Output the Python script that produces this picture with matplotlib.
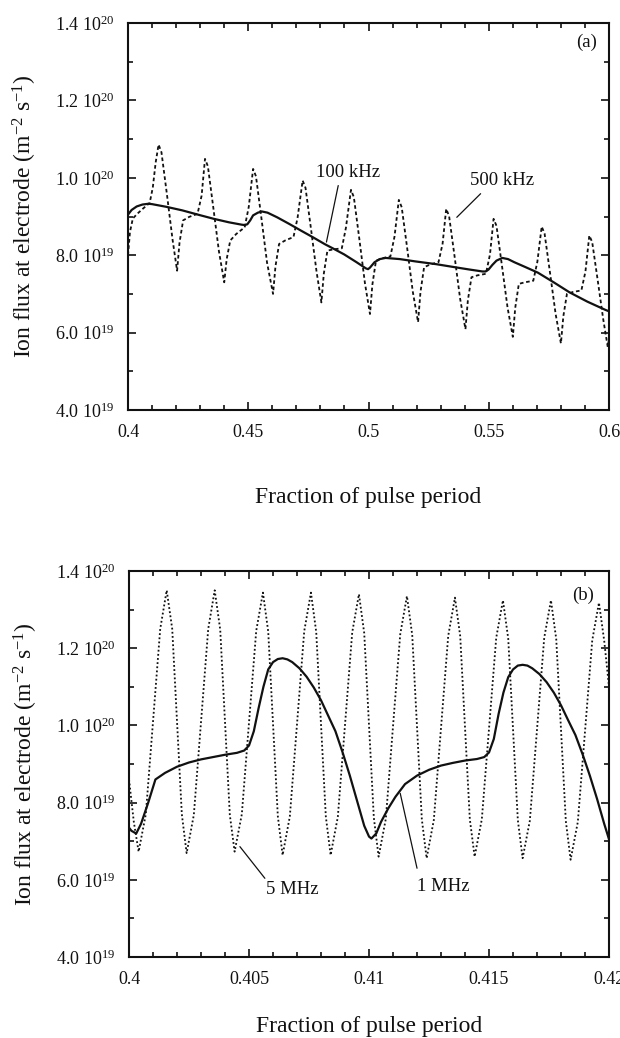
import matplotlib.pyplot as plt
from matplotlib.ticker import MultipleLocator

plt.rcParams['font.family'] = ['Liberation Serif', 'DejaVu Serif']
plt.rcParams['mathtext.fontset'] = 'custom'
plt.rcParams['mathtext.rm'] = 'Liberation Serif'
plt.rcParams['mathtext.it'] = 'Liberation Serif:italic'
plt.rcParams['mathtext.bf'] = 'Liberation Serif:bold'

# ion flux in units of 1e20 m^-2 s^-1
y_ticks = [0.4, 0.6, 0.8, 1.0, 1.2, 1.4]
y_ticklabels = ['4.0 10$^{19}$', '6.0 10$^{19}$', '8.0 10$^{19}$',
                '1.0 10$^{20}$', '1.2 10$^{20}$', '1.4 10$^{20}$']

# ---- panel (a): 100 kHz (solid) and 500 kHz (dotted)
xa_ticks = [0.4, 0.45, 0.5, 0.55, 0.6]
xa_ticklabels = ['0.4', '0.45', '0.5', '0.55', '0.6']

xa_100 = [0.4000, 0.4015, 0.4036, 0.4060, 0.4085, 0.4100, 0.4160, 0.4225, 0.4290, 0.4357,
          0.4420, 0.4472, 0.4485, 0.4496, 0.4508, 0.4520, 0.4540, 0.4557, 0.4580, 0.4620,
          0.4670, 0.4718, 0.4770, 0.4817, 0.4860, 0.4899, 0.4950, 0.4989, 0.4998, 0.5006,
          0.5025, 0.5047, 0.5071, 0.5130, 0.5195, 0.5280, 0.5359, 0.5420, 0.5474, 0.5487,
          0.5499, 0.5515, 0.5532, 0.5556, 0.5580, 0.5606, 0.5650, 0.5704, 0.5770, 0.5836,
          0.5910, 0.5984, 0.6000]
ya_100 = [0.905, 0.917, 0.926, 0.931, 0.933, 0.932, 0.925, 0.916, 0.905, 0.894,
          0.885, 0.879, 0.878, 0.880, 0.890, 0.903, 0.910, 0.913, 0.910, 0.898,
          0.881, 0.864, 0.846, 0.829, 0.815, 0.802, 0.782, 0.766, 0.764, 0.768,
          0.782, 0.790, 0.793, 0.790, 0.784, 0.777, 0.769, 0.763, 0.758, 0.758,
          0.763, 0.775, 0.786, 0.793, 0.790, 0.782, 0.770, 0.755, 0.730, 0.704,
          0.680, 0.659, 0.655]

xa_500 = [0.4000, 0.4008, 0.4020, 0.4040, 0.4065, 0.4090, 0.4103, 0.4115,
          0.4127, 0.4139, 0.4162, 0.4185, 0.4204, 0.4214, 0.4229, 0.4254, 0.4289, 0.4306,
          0.4320, 0.4332, 0.4355, 0.4378, 0.4400, 0.4410, 0.4425, 0.4450, 0.4485, 0.4502,
          0.4520, 0.4532, 0.4555, 0.4578, 0.4603, 0.4613, 0.4628, 0.4653, 0.4688, 0.4705,
          0.4726, 0.4738, 0.4761, 0.4784, 0.4804, 0.4814, 0.4829, 0.4854, 0.4889, 0.4906,
          0.4927, 0.4939, 0.4962, 0.4985, 0.5006, 0.5016, 0.5031, 0.5056, 0.5091, 0.5108,
          0.5126, 0.5138, 0.5161, 0.5184, 0.5206, 0.5216, 0.5231, 0.5256, 0.5291, 0.5308,
          0.5323, 0.5335, 0.5358, 0.5381, 0.5403, 0.5413, 0.5428, 0.5453, 0.5488, 0.5505,
          0.5520, 0.5532, 0.5555, 0.5578, 0.5600, 0.5610, 0.5625, 0.5650, 0.5685, 0.5702,
          0.5720, 0.5732, 0.5755, 0.5778, 0.5800, 0.5810, 0.5825, 0.5850, 0.5885, 0.5902,
          0.5918, 0.5930, 0.5953, 0.5976, 0.5995, 0.6000]
ya_500 = [0.800, 0.860, 0.895, 0.908, 0.922, 0.935, 0.975, 1.040,
          1.086, 1.066, 0.956, 0.841, 0.760, 0.832, 0.890, 0.899, 0.907, 0.954,
          1.049, 1.030, 0.921, 0.810, 0.730, 0.789, 0.838, 0.855, 0.872, 0.925,
          1.023, 1.004, 0.894, 0.781, 0.700, 0.771, 0.829, 0.838, 0.847, 0.897,
          0.993, 0.974, 0.867, 0.757, 0.678, 0.752, 0.812, 0.815, 0.818, 0.871,
          0.969, 0.950, 0.841, 0.728, 0.648, 0.724, 0.786, 0.792, 0.797, 0.848,
          0.943, 0.924, 0.817, 0.706, 0.627, 0.705, 0.769, 0.776, 0.782, 0.830,
          0.920, 0.901, 0.796, 0.687, 0.609, 0.683, 0.743, 0.748, 0.752, 0.802,
          0.894, 0.876, 0.772, 0.665, 0.589, 0.664, 0.726, 0.730, 0.734, 0.783,
          0.874, 0.856, 0.753, 0.648, 0.572, 0.642, 0.700, 0.705, 0.709, 0.758,
          0.851, 0.834, 0.735, 0.634, 0.562, 0.590]

# ---- panel (b): 1 MHz (solid) and 5 MHz (dotted)
xb_ticks = [0.4, 0.405, 0.41, 0.415, 0.42]
xb_ticklabels = ['0.4', '0.405', '0.41', '0.415', '0.42']

xb_1 = [0.4000, 0.4001, 0.4003, 0.4005, 0.4008, 0.4011, 0.4015, 0.4020, 0.4025, 0.4030,
        0.4035, 0.4040, 0.4045, 0.4048, 0.4050, 0.4052, 0.4054, 0.4056, 0.4058, 0.4060,
        0.4062, 0.4064, 0.4066, 0.4068, 0.4071, 0.4074, 0.4077, 0.4080, 0.4083, 0.4086,
        0.4089, 0.4092, 0.4095, 0.4098, 0.4100, 0.4101, 0.4103, 0.4105, 0.4108, 0.4111,
        0.4115, 0.4120, 0.4125, 0.4130, 0.4135, 0.4140, 0.4145, 0.4148, 0.4150, 0.4152,
        0.4154, 0.4156, 0.4158, 0.4160, 0.4162, 0.4164, 0.4166, 0.4168, 0.4171, 0.4174,
        0.4177, 0.4180, 0.4183, 0.4186, 0.4189, 0.4192, 0.4195, 0.4198, 0.4200]
yb_1 = [0.735, 0.727, 0.720, 0.745, 0.800, 0.860, 0.877, 0.893, 0.904, 0.912,
        0.918, 0.924, 0.929, 0.935, 0.948, 0.985, 1.045, 1.100, 1.145, 1.164,
        1.172, 1.174, 1.171, 1.164, 1.148, 1.126, 1.098, 1.065, 1.025, 0.985,
        0.930, 0.870, 0.805, 0.740, 0.712, 0.707, 0.720, 0.750, 0.785, 0.815,
        0.848, 0.870, 0.885, 0.896, 0.903, 0.909, 0.913, 0.918, 0.930, 0.965,
        1.030, 1.085, 1.125, 1.145, 1.155, 1.157, 1.155, 1.148, 1.133, 1.112,
        1.085, 1.052, 1.013, 0.975, 0.925, 0.870, 0.810, 0.745, 0.705]

xb_5 = [0.4000, 0.4002,
        0.4004, 0.4007, 0.4010, 0.4013, 0.40157, 0.4018, 0.4020, 0.4022,
        0.4024, 0.4027, 0.4030, 0.4033, 0.40357, 0.4038, 0.4040, 0.4042,
        0.4044, 0.4047, 0.4050, 0.4053, 0.40558, 0.4058, 0.4060, 0.4062,
        0.4064, 0.4067, 0.4070, 0.4073, 0.40758, 0.4078, 0.4080, 0.4082,
        0.4084, 0.4087, 0.4090, 0.4093, 0.40958, 0.4098, 0.4100, 0.4102,
        0.4104, 0.4107, 0.4110, 0.4113, 0.41158, 0.4118, 0.4120, 0.4122,
        0.4124, 0.4127, 0.4130, 0.4133, 0.41358, 0.4138, 0.4140, 0.4142,
        0.4144, 0.4147, 0.4150, 0.4153, 0.41558, 0.4158, 0.4160, 0.4162,
        0.4164, 0.4167, 0.4170, 0.4173, 0.41758, 0.4178, 0.4180, 0.4182,
        0.4184, 0.4187, 0.4190, 0.4193, 0.41958, 0.4198, 0.4200]
yb_5 = [0.860, 0.750,
        0.673, 0.770, 1.010, 1.250, 1.350, 1.250, 1.010, 0.770,
        0.669, 0.768, 1.009, 1.250, 1.350, 1.248, 1.008, 0.768,
        0.673, 0.770, 1.008, 1.245, 1.344, 1.243, 1.004, 0.765,
        0.664, 0.764, 1.004, 1.244, 1.344, 1.242, 1.002, 0.764,
        0.664, 0.763, 1.002, 1.241, 1.340, 1.239, 1.000, 0.761,
        0.660, 0.758, 0.998, 1.236, 1.335, 1.234, 0.996, 0.757,
        0.656, 0.755, 0.994, 1.232, 1.331, 1.231, 0.994, 0.757,
        0.660, 0.757, 0.992, 1.227, 1.324, 1.225, 0.990, 0.755,
        0.656, 0.753, 0.990, 1.227, 1.324, 1.224, 0.988, 0.752,
        0.652, 0.750, 0.985, 1.220, 1.318, 1.219, 1.100]

BLACK = '#111111'


def style_axes(ax, xticks, xticklabels, xminor, xlim, xlabel_y):
    ax.set_xlim(*xlim)
    ax.set_ylim(0.4, 1.4)
    ax.set_xticks(xticks)
    ax.set_xticklabels(xticklabels)
    ax.set_yticks(y_ticks)
    ax.set_yticklabels(y_ticklabels)
    ax.xaxis.set_minor_locator(MultipleLocator(xminor))
    ax.yaxis.set_minor_locator(MultipleLocator(0.1))
    ax.tick_params(which='both', direction='in', top=True, right=True,
                   width=1.2, color=BLACK, labelsize=13, labelcolor=BLACK)
    ax.tick_params(which='major', length=6)
    ax.tick_params(which='minor', length=3.5)
    ax.tick_params(axis='x', pad=10)
    ax.tick_params(axis='y', pad=10)
    for s in ax.spines.values():
        s.set_linewidth(1.5)
        s.set_color(BLACK)
    ax.set_xlabel('Fraction of pulse period', fontsize=17, color=BLACK)
    ax.xaxis.set_label_coords(0.5, xlabel_y)
    ax.xaxis.label.set_va('center')
    ax.set_ylabel('Ion flux at electrode (m$^{-2}$ s$^{-1}$)', fontsize=17, color=BLACK)
    ax.yaxis.set_label_coords(-0.214, 0.5)
    ax.yaxis.label.set_va('center')


def pointer(ax, label, text_xy, start, end):
    ax.text(*text_xy, label, fontsize=13.5, ha='center', va='center', color=BLACK)
    ax.annotate('', xy=end, xytext=start,
                arrowprops=dict(arrowstyle='-', lw=0.9, color=BLACK,
                                shrinkA=0, shrinkB=0))


fig = plt.figure(figsize=(6.2, 10.38), dpi=100)

ax1 = fig.add_axes([0.2065, 0.6050, 0.7758, 0.3728])
ax1.plot(xa_100, ya_100, color=BLACK, lw=1.6)
ax1.plot(xa_500, ya_500, color=BLACK, lw=1.3, linestyle=(0, (2.0, 1.5)))
style_axes(ax1, xa_ticks, xa_ticklabels, 0.01, (0.4, 0.6), -0.227)
ax1.text(0.5908, 1.351, '(a)', fontsize=13.5, ha='center', va='center', color=BLACK)
pointer(ax1, '100 kHz', (0.4915, 1.015), (0.4874, 0.980), (0.4825, 0.834))
pointer(ax1, '500 kHz', (0.5556, 0.993), (0.5466, 0.959), (0.5367, 0.898))

ax2 = fig.add_axes([0.2081, 0.0780, 0.7742, 0.3719])
ax2.plot(xb_1, yb_1, color=BLACK, lw=1.6)
ax2.plot(xb_5, yb_5, color=BLACK, lw=1.3, linestyle=(0, (1.0, 1.3)))
style_axes(ax2, xb_ticks, xb_ticklabels, 0.001, (0.4, 0.42), -0.181)
ax2.text(0.41893, 1.338, '(b)', fontsize=13.5, ha='center', va='center', color=BLACK)
pointer(ax2, '5 MHz', (0.4068, 0.574), (0.40566, 0.604), (0.40462, 0.686))
pointer(ax2, '1 MHz', (0.41308, 0.584), (0.4120, 0.630), (0.4113, 0.824))

fig.savefig('out.png', dpi=100, facecolor='white')
